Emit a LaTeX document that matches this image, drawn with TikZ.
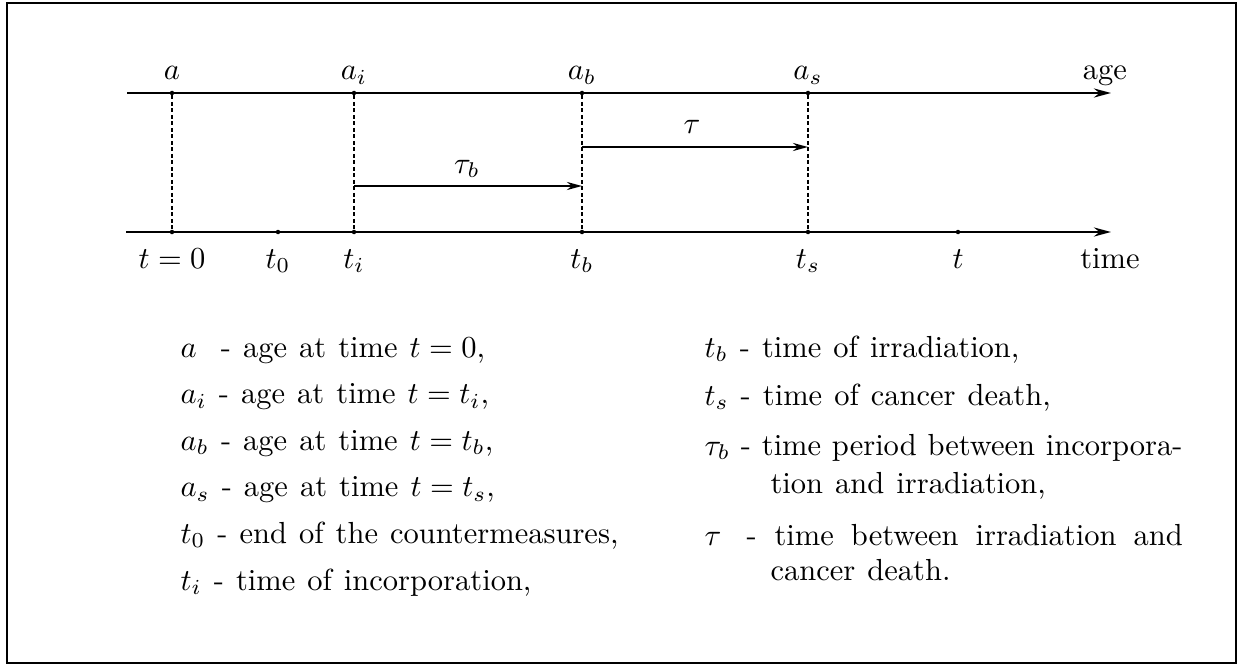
\documentclass[tikz,border=0pt]{standalone}
\usetikzlibrary{arrows.meta}
\newcommand{\legfont}{\fontsize{10}{12}\selectfont\spaceskip=3.95pt plus 1.5pt minus 0.6pt\relax}
\begin{document}
\begin{tikzpicture}[x=1pt,y=-1pt,
  lbl/.style={inner sep=0pt,anchor=base,scale=3.05,font=\fontsize{10}{12}\selectfont},
  leg/.style={inner sep=0pt,anchor=base west,scale=3.05,font=\legfont},
  axis/.style={line width=2.6pt,-{Stealth[length=17pt,width=9pt]}},
  span/.style={line width=2.3pt,-{Stealth[length=15pt,width=8pt]}},
  guide/.style={line width=1.5pt,dash pattern=on 4pt off 2.5pt},
  dot/.style={circle,fill,inner sep=0pt,minimum size=4.5pt}]
\useasboundingbox (0,0) rectangle (1239,666);
\draw[line width=2pt] (7,3) rectangle (1236,663);
% axes
\coordinate (A0) at (127,93);
\coordinate (A1) at (1111,93);
\coordinate (T0) at (126,232);
\coordinate (T1) at (1111,232);
\draw[axis] (A0) -- (A1);
\draw[axis] (T0) -- (T1);
% points
\node[dot] (pa) at (172,93) {};
\node[dot] (pai) at (354,93) {};
\node[dot] (pab) at (582,93) {};
\node[dot] (pas) at (808,93) {};
\node[dot] (pt0) at (172,232) {};
\node[dot] (ptz) at (278,232) {};
\node[dot] (pti) at (354,232) {};
\node[dot] (ptb) at (582,232) {};
\node[dot] (pts) at (808,232) {};
\node[dot] (pt) at (958,232) {};
\draw[guide] (pa) -- (pt0);
\draw[guide] (pai) -- (pti);
\draw[guide] (pab) -- (ptb);
\draw[guide] (pas) -- (pts);
% spans
\coordinate (sb0) at (354,186);
\coordinate (sb1) at (582,186);
\coordinate (s0) at (582,147);
\coordinate (s1) at (808,147);
\draw[span] (sb0) -- (sb1);
\draw[span] (s0) -- (s1);
\node[lbl] (ltb) at (467,173) {$\tau_b$};
\node[lbl] (lt) at (692,133) {$\tau$};
% top labels
\node[lbl] (la) at (172,80) {$a$};
\node[lbl] (lai) at (354,80) {$a_i$};
\node[lbl] (lab) at (582,80) {$a_b$};
\node[lbl] (las) at (808,80) {$a_s$};
\node[lbl] (lage) at (1105,80) {age};
% bottom labels
\node[lbl] (lt0) at (172,268) {$t=0$};
\node[lbl] (ltz) at (278,268) {$t_0$};
\node[lbl] (lti) at (354,268) {$t_i$};
\node[lbl] (ltbb) at (582,268) {$t_b$};
\node[lbl] (lts) at (808,268) {$t_s$};
\node[lbl] (ltt) at (958,268) {$t$};
\node[lbl] (ltime) at (1110,268) {time};
% legend left
\node[leg] (g1) at (180,357) {$a$\ \ - age at time $t=0$,};
\node[leg] (g2) at (180,403.5) {$a_i$ - age at time $t=t_i$,};
\node[leg] (g3) at (180,450) {$a_b$ - age at time $t=t_b$,};
\node[leg] (g4) at (180,496.5) {$a_s$ - age at time $t=t_s$,};
\node[leg] (g5) at (180,543) {$t_0$ - end of the countermeasures,};
\node[leg] (g6) at (180,590) {$t_i$ - time of incorporation,};
% legend right
\node[leg] (h1) at (704,357) {$t_b$ - time of irradiation,};
\node[leg] (h2) at (704,405) {$t_s$ - time of cancer death,};
\node[leg] (h3) at (704,455) {\makebox[156.7pt][s]{$\tau_b$ - time period between incorpora-}};
\node[leg] (h3b) at (770,493) {tion and irradiation,};
\node[leg] (h4s) at (704,545) {$\tau$};
\node[leg] (h4d) at (746,545) {-};
\node[leg] (h4) at (774,545) {\makebox[133.8pt][s]{time between irradiation and}};
\node[leg] (h4b) at (770,580) {cancer death.};
\end{tikzpicture}
\end{document}
